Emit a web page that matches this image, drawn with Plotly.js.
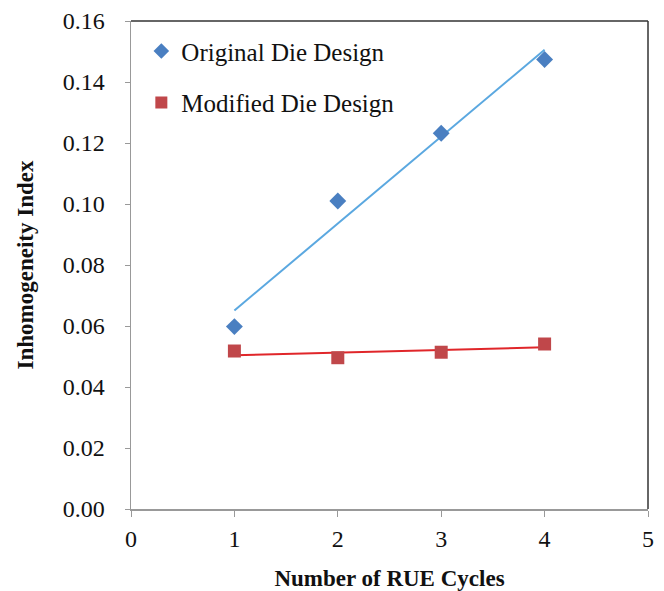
<!DOCTYPE html>
<html><head><meta charset="utf-8">
<script src="https://cdn.plot.ly/plotly-3.0.1.min.js"></script>
<style>body{margin:0;background:#fff}#chart{width:664px;height:591px}</style>
</head><body><div id="chart"></div>
<script>
const cycles = [1, 2, 3, 4];
const originalIndex = [0.0598, 0.1010, 0.1232, 0.1474];
const modifiedIndex = [0.0518, 0.0496, 0.0514, 0.0541];
const xTicks = [0, 1, 2, 3, 4, 5];
const yTicks = [0, 0.02, 0.04, 0.06, 0.08, 0.10, 0.12, 0.14, 0.16];

function fit(x, y) {
  const n = x.length;
  const mx = x.reduce((a, b) => a + b) / n, my = y.reduce((a, b) => a + b) / n;
  let sxy = 0, sxx = 0;
  for (let i = 0; i < n; i++) { sxy += (x[i] - mx) * (y[i] - my); sxx += (x[i] - mx) ** 2; }
  const b = sxy / sxx, a = my - b * mx;
  return x.map(v => a + b * v);
}

const serif = "Liberation Serif, Times New Roman, serif";
const traces = [
  {x: cycles, y: fit(cycles, originalIndex), mode: 'lines', line: {color: '#5ba8e0', width: 2}, showlegend: false, hoverinfo: 'skip'},
  {x: cycles, y: fit(cycles, modifiedIndex), mode: 'lines', line: {color: '#e0262a', width: 2}, showlegend: false, hoverinfo: 'skip'},
  {x: cycles, y: originalIndex, mode: 'markers', name: 'Original Die Design', legendgroup: 'a',
   marker: {symbol: 'diamond', size: 13, color: '#4a7fc1'}},
  {x: cycles, y: modifiedIndex, mode: 'markers', name: 'Modified Die Design', legendgroup: 'b',
   marker: {symbol: 'square', size: 13, color: '#c0474a'}}
];

const layout = {
  width: 664, height: 591,
  margin: {l: 131, r: 16, t: 21, b: 82},
  paper_bgcolor: '#fff', plot_bgcolor: '#fff',
  font: {family: serif, color: '#111'},
  xaxis: {range: [0, 5], tickvals: xTicks, ticktext: xTicks.map(String),
    showgrid: false, zeroline: false, showline: true, linecolor: '#999', linewidth: 1.5,
    mirror: false, ticks: 'outside', ticklen: 6, tickcolor: '#999', ticklabelstandoff: 2,
    tickfont: {size: 24, family: serif, color: '#111'},
    title: {text: '<b>Number of RUE Cycles</b>', font: {size: 23, family: serif, color: '#111'}, standoff: 26}},
  yaxis: {range: [0, 0.16], tickvals: yTicks, ticktext: yTicks.map(v => v.toFixed(2)),
    showgrid: false, zeroline: false, showline: true, linecolor: '#999', linewidth: 1.5,
    ticks: 'outside', ticklen: 5, tickcolor: '#999', ticklabelstandoff: 15,
    tickfont: {size: 24, family: serif, color: '#111'},
    title: {text: '<b>Inhomogeneity Index</b>', font: {size: 23, family: serif, color: '#111'}, standoff: 22}},
  shapes: [
    {type: 'line', xref: 'paper', yref: 'paper', x0: 0, x1: 1, y0: 1, y1: 1, line: {color: '#333', width: 1.5}},
    {type: 'line', xref: 'paper', yref: 'paper', x0: 1, x1: 1, y0: 0, y1: 1, line: {color: '#333', width: 1.5}}
  ],
  legend: {x: 0.02, y: 0.985, xanchor: 'left', yanchor: 'top', bgcolor: 'rgba(0,0,0,0)',
    font: {size: 25, family: serif, color: '#111'}, tracegroupgap: 16, itemsizing: 'constant'},
  showlegend: true
};
Plotly.newPlot('chart', traces, layout, {displayModeBar: false, staticPlot: true});
</script></body></html>
